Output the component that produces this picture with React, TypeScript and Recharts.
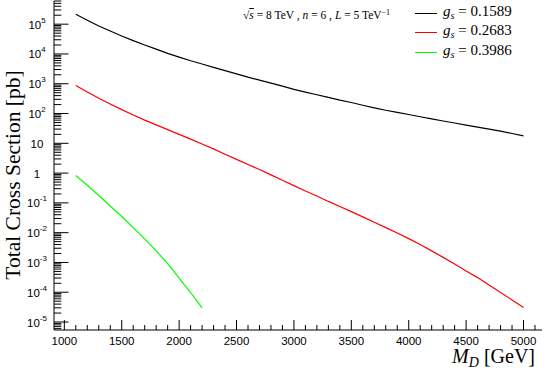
import React from 'react'
import { LineChart, Line, XAxis, YAxis, Legend } from 'recharts'

// M_D grid (GeV)
const MD = [
  1100, 1200, 1300, 1400, 1500, 1600, 1700, 1800, 1900, 2000,
  2100, 2200, 2300, 2400, 2500, 2600, 2700, 2800, 2900, 3000,
  3100, 3200, 3300, 3400, 3500, 3600, 3700, 3800, 3900, 4000,
  4100, 4200, 4300, 4400, 4500, 4600, 4700, 4800, 4900, 5000,
]

// total cross section (pb), g_s = 0.1589
const XS_G1 = [
  2.14e5, 1.35e5, 8.7e4, 5.9e4, 4.0e4, 2.8e4, 2.0e4, 1.45e4, 1.05e4, 7.8e3,
  5.9e3, 4.6e3, 3.55e3, 2.75e3, 2.14e3, 1.66e3, 1.32e3, 1.05e3, 830, 645,
  525, 427, 347, 282, 234, 190, 155, 129, 110, 93,
  78, 66, 56, 48, 41, 35, 30, 25.5, 21.4, 17.8,
]

// g_s = 0.2683
const XS_G2 = [
  870, 525, 324, 209, 135, 89, 60, 41.7, 28.8, 20,
  13.8, 9.5, 6.5, 4.3, 2.9, 1.95, 1.32, 0.87, 0.575, 0.38,
  0.25, 0.17, 0.112, 0.076, 0.051, 0.034, 0.0224, 0.0148, 0.0098, 0.0063,
  0.0040, 0.00245, 0.00148, 8.9e-4, 5.2e-4, 3.1e-4, 1.74e-4, 9.8e-5, 5.5e-5, 3.1e-5,
]

// g_s = 0.3986 (stops at 2200 GeV)
const MD_G3 = [1100, 1200, 1300, 1400, 1500, 1600, 1700, 1800, 1900, 2000, 2100, 2200]
const XS_G3 = [0.83, 0.39, 0.178, 0.079, 0.035, 0.0148, 6.2e-3, 2.45e-3, 9.1e-4, 3.0e-4, 9.8e-5, 3.0e-5]

const SERIES_LABELS = ['0.1589', '0.2683', '0.3986']
const SERIES_COLORS = ['#000000', '#ff0000', '#00ff00']

const X_LABELS = [1000, 1500, 2000, 2500, 3000, 3500, 4000, 4500, 5000]
const Y_MAJOR = [1e-5, 1e-4, 1e-3, 1e-2, 1e-1, 1, 10, 1e2, 1e3, 1e4, 1e5]
const Y_LABELS: [string, string][] = [
  ['10', '-5'], ['10', '-4'], ['10', '-3'], ['10', '-2'], ['10', '-1'],
  ['1', ''], ['10', ''], ['10', '2'], ['10', '3'], ['10', '4'], ['10', '5'],
]

const X_DOMAIN: [number, number] = [910, 5161]
const Y_DOMAIN: [number, number] = [5.4e-6, 6.0e5]

// minor ticks every 100 GeV, log minors 2..9
const X_TICKS: number[] = []
for (let v = 1000; v <= 5100; v += 100) X_TICKS.push(v)
const Y_TICKS: number[] = []
for (let e = -6; e <= 5; e++) {
  for (let m = 1; m <= 9; m++) {
    const v = m * Math.pow(10, e)
    if (v >= Y_DOMAIN[0] && v <= Y_DOMAIN[1]) Y_TICKS.push(v)
  }
}

const g1 = MD.map((m, i) => ({ x: m, y: XS_G1[i] }))
const g2 = MD.map((m, i) => ({ x: m, y: XS_G2[i] }))
const g3 = MD_G3.map((m, i) => ({ x: m, y: XS_G3[i] }))
const SERIES_DATA = [g1, g2, g3]

const sans = '"Liberation Sans", Arial, Helvetica, sans-serif'
const serif = '"Liberation Serif", "Times New Roman", serif'

function XTick(props: any) {
  const { x, y, payload } = props
  const v = payload.value
  const major = X_LABELS.includes(v)
  return (
    <g>
      <line x1={x} x2={x} y1={y} y2={y - (major ? 10 : 5)} stroke="#000" strokeWidth={1} />
      {major && (
        <text x={x} y={y + 14.5} textAnchor="middle" fontSize={11.5} fontFamily={sans} fill="#000">
          {v}
        </text>
      )}
    </g>
  )
}

function YTick(props: any) {
  const { x, y, payload } = props
  const v = payload.value
  const idx = Y_MAJOR.findIndex((m) => Math.abs(v / m - 1) < 1e-6)
  const major = idx >= 0
  return (
    <g>
      <line x1={x} x2={x + (major ? 14.5 : 7.3)} y1={y} y2={y} stroke="#000" strokeWidth={1} />
      {major && (
        <text x={x - 17} y={y + 4.5} textAnchor="middle" fontSize={11.5} fontFamily={sans} fill="#000">
          <tspan>{Y_LABELS[idx][0]}</tspan>
          {Y_LABELS[idx][1] && (
            <tspan dy={-6} fontSize={8}>{Y_LABELS[idx][1]}</tspan>
          )}
        </text>
      )}
    </g>
  )
}

const ROW_Y = [13, 32.5, 52]

function LegendBox() {
  return (
    <div style={{ position: 'relative', width: 545, height: 70, fontFamily: serif, color: '#000' }}>
      <div style={{ position: 'absolute', left: 243, top: 4, fontSize: 11.5, whiteSpace: 'nowrap', lineHeight: '18px' }}>
        √<span style={{ textDecoration: 'overline' }}><i>s</i></span> = 8 TeV , <i>n</i> = 6 , <i>L</i> = 5 TeV
        <span style={{ fontSize: 8, verticalAlign: 4 }}>−1</span>
      </div>
      {SERIES_LABELS.map((lab, i) => (
        <div
          key={lab}
          style={{ position: 'absolute', left: 415, top: ROW_Y[i] - 10, height: 20, display: 'flex', alignItems: 'center', whiteSpace: 'nowrap' }}
        >
          <div style={{ width: 22, height: 0, borderTop: `1.5px solid ${SERIES_COLORS[i]}` }} />
          <span style={{ marginLeft: 6, fontSize: 15, lineHeight: '20px' }}>
            <i>g</i>
            <span style={{ fontSize: 10, verticalAlign: -3 }}><i>s</i></span> = {lab}
          </span>
        </div>
      ))}
    </div>
  )
}

export default function App() {
  return (
    <div style={{ position: 'absolute', left: 0, top: 0, width: 545, height: 372, background: '#fff' }}>
      <LineChart width={545} height={372} margin={{ top: 1, right: 3, bottom: 0, left: 0 }}>
        <XAxis
          dataKey="x"
          type="number"
          scale="linear"
          domain={X_DOMAIN}
          allowDataOverflow
          ticks={X_TICKS}
          interval={0}
          tick={<XTick />}
          tickLine={false}
          tickSize={0}
          tickMargin={0}
          height={42}
          axisLine={{ stroke: '#000' }}
          label={() => (
            <text x={535} y={363} textAnchor="end" fontSize={20} fontFamily={serif} fill="#000">
              <tspan fontStyle="italic">M</tspan>
              <tspan fontStyle="italic" fontSize={14} dy={4}>D</tspan>
              <tspan dy={-4}> [GeV]</tspan>
            </text>
          )}
        />
        <XAxis xAxisId="top" orientation="top" type="number" domain={X_DOMAIN} allowDataOverflow height={0} tick={false} tickLine={false} axisLine={{ stroke: '#000' }} />
        <YAxis
          type="number"
          scale="log"
          domain={Y_DOMAIN}
          allowDataOverflow
          ticks={Y_TICKS}
          interval={0}
          tick={<YTick />}
          tickLine={false}
          tickSize={0}
          tickMargin={0}
          width={54}
          axisLine={{ stroke: '#000' }}
          label={() => (
            <text x={20} y={175} transform="rotate(-90 20 175)" textAnchor="middle" fontSize={21.5} fontFamily={serif} fill="#000">
              Total Cross Section [pb]
            </text>
          )}
        />
        <YAxis yAxisId="right" orientation="right" type="number" scale="log" domain={Y_DOMAIN} allowDataOverflow width={0} tick={false} tickLine={false} axisLine={{ stroke: '#000', strokeWidth: 1.5 }} />
        <Legend layout="vertical" align="center" verticalAlign="middle" content={<LegendBox />} wrapperStyle={{ position: 'absolute', left: 0, top: 0, width: 545, height: 70 }} />
        {SERIES_DATA.map((d, i) => (
          <Line
            key={SERIES_LABELS[i]}
            data={d}
            dataKey="y"
            type="linear"
            stroke={SERIES_COLORS[i]}
            strokeWidth={1.2}
            dot={false}
            isAnimationActive={false}
            legendType="none"
          />
        ))}
      </LineChart>
    </div>
  )
}
